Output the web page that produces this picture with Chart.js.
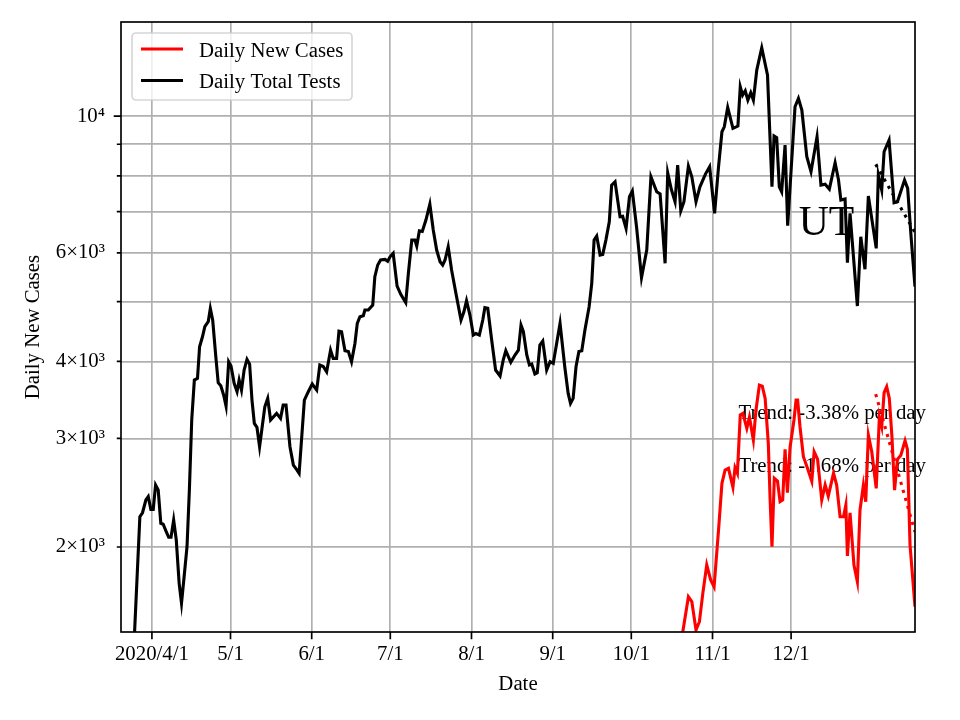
<!DOCTYPE html>
<html lang="en">
<head>
  <meta charset="UTF-8">
  <title>UT Daily New Cases and Tests</title>
  <script src="https://cdn.jsdelivr.net/npm/chart.js"></script>
  <style>
    body { margin: 0; background: #fff; }
    canvas { display: block; }
  </style>
</head>
<body>
  <canvas id="trendChart" width="960" height="720"></canvas>
  <script>
    // x values are days counted from 2020/4/1
    const monthTickDays = [0, 30, 61, 91, 122, 153, 183, 214, 244];
    const monthTickLabels = ['2020/4/1', '5/1', '6/1', '7/1', '8/1', '9/1', '10/1', '11/1', '12/1'];

    const yTickValues = [2000, 3000, 4000, 5000, 6000, 7000, 8000, 9000, 10000];
    const yTickLabels = ['2\u00d710\u00b3', '3\u00d710\u00b3', '4\u00d710\u00b3', '', '6\u00d710\u00b3', '', '', '', '10\u2074'];

    const seriesNames = ['Daily New Cases', 'Daily Total Tests'];
    const stateLabel = 'UT';
    const trendLabels = ['Trend: -3.38% per day', 'Trend: -1.68% per day'];

    const testsDays = [
      -6.8, -4.6, -3.6, -2.3, -1.4, -0.4, 0.5, 1.4, 2.4, 3.4, 4.3, 5.3, 6.4, 7.3, 8.3, 9.3,
      10.4, 11.3, 12.3, 13.4, 14.3, 15.2, 16.2, 17.4, 18.2, 19.3, 20.2, 21.5, 22.3, 23.2, 24.4,
      25.3, 26.3, 27.4, 28.3, 29.3, 30.2, 31.4, 32.5, 33.3, 34.2, 35.2, 36.3, 37.3, 38.2, 39.1,
      40.1, 41.1, 43.1, 44.2, 45.3, 47.6, 49.1, 50.1, 51.2, 52.7, 54.0, 55.2, 56.2, 58.2, 59.7,
      61.2, 62.9, 64.1, 65.4, 66.7, 68.2, 69.2, 70.5, 71.4, 72.4, 73.7, 75.0, 76.2, 77.5, 78.4,
      79.4, 80.7, 81.3, 82.6, 84.3, 85.1, 86.2, 87.3, 89.0, 90.0, 90.9, 92.1, 93.6, 95.0, 96.9,
      97.9, 99.2, 100.4, 101.1, 102.1, 103.2, 104.6, 106.1, 107.4, 108.7, 110.0, 111.0, 111.9,
      113.1, 114.4, 116.3, 118.0, 119.1, 120.1, 121.4, 122.7, 123.7, 125.0, 126.3, 127.1, 128.2,
      129.7, 131.2, 132.9, 134.1, 135.1, 137.0, 138.6, 139.9, 140.9, 141.8, 143.1, 144.1, 145.0,
      146.2, 147.1, 148.1, 149.2, 150.7, 152.0, 153.2, 154.5, 155.8, 157.6, 158.9, 159.8, 160.8,
      161.9, 163.0, 164.1, 165.3, 166.9, 167.9, 168.8, 169.8, 171.1, 172.1, 173.3, 174.6, 175.5,
      176.8, 178.7, 179.7, 181.0, 182.3, 183.4, 185.0, 186.9, 188.9, 190.5, 192.7, 194.0, 195.9,
      196.9, 198.3, 199.7, 200.7, 201.9, 203.1, 204.8, 206.1, 207.7, 209.2, 211.3, 212.9, 214.8,
      216.3, 217.6, 218.5, 219.8, 221.8, 223.7, 224.6, 225.5, 226.5, 227.5, 228.6, 229.6, 230.9,
      232.8, 235.0, 236.7, 237.5, 238.5, 239.5, 240.4, 241.7, 242.7, 245.5, 246.8, 248.1, 250.0,
      251.6, 253.9, 255.4, 257.0, 258.6, 260.8, 262.1, 263.0, 264.6, 265.5, 266.5, 269.3, 270.6,
      272.2, 273.5, 276.5, 277.3, 278.6, 279.5, 281.4, 283.3, 284.6, 287.3, 288.5, 289.8, 291.3
    ];
    const testsValues = [
      1400, 2239, 2273, 2384, 2414, 2302, 2302, 2521, 2474, 2185, 2178, 2126, 2074, 2074, 2212, 2053,
      1746, 1621, 1790, 2002, 2474, 3214, 3731, 3755, 4225, 4386, 4553, 4639, 4876, 4669, 4070,
      3694, 3652, 3526, 3385, 3995, 3932, 3685, 3572, 3731, 3594, 3873, 4031, 3960, 3462, 3174,
      3127, 2909, 3377, 3484, 3214, 3294, 3233, 3398, 3398, 2909, 2716, 2673, 2633, 3462, 3572,
      3676, 3594, 3947, 3925, 3848, 4173, 4046, 4046, 4480, 4470, 4163, 4150, 3995, 4278, 4611,
      4726, 4745, 4846, 4846, 4937, 5488, 5734, 5842, 5855, 5815, 5912, 5989, 5300, 5140, 4981,
      5558, 6293, 6293, 6154, 6516, 6500, 6781, 7198, 6533, 6063, 5805, 5734, 5842,
      6138, 5627, 5094, 4669, 4815, 5017, 4756, 4414, 4439, 4414, 4669, 4888, 4876,
      4332, 3873, 3788, 4020, 4163, 3987, 4097, 4173, 4581, 4470, 4097, 3947, 3960,
      3817, 3835, 4252, 4316, 3873, 3995, 3970, 4278, 4611, 3921, 3550, 3420, 3484,
      3921, 4150, 4163, 4497, 4906, 5355, 6293, 6389, 5951, 5965, 6293, 6739, 7728,
      7825, 6865, 6878, 6575, 7397, 7557, 6614, 5470, 6063, 7970, 7537, 7476, 5770,
      8091, 7600, 7262, 8325, 7021, 7262, 8295, 7970, 7262, 7679, 8052, 8275, 6953,
      8275, 9431, 9607, 10330, 9551, 9634, 11156, 10815, 10990, 10614, 10909, 10614, 11874,
      12906, 11655, 7679, 9281, 9224, 7679, 7537, 8974, 6639, 10354, 10683, 10227, 8591,
      8123, 9256, 7728, 7753, 7612, 8399, 7874, 7308, 7336, 5783, 6953, 4919, 6373,
      5643, 7418, 6101, 8023, 7586, 8752, 9143, 7234, 7262, 7874, 7633, 6373, 5288
    ];

    const casesDays = [
      202.0, 204.8, 206.1, 207.7, 209.0, 210.3, 211.8, 213.3, 214.6, 216.3, 217.6, 218.8, 220.1,
      221.8, 222.6, 223.5, 224.6, 225.6, 227.1, 228.1, 229.6, 230.6, 231.9, 233.0, 234.1, 235.3,
      236.0, 236.7, 237.6, 238.8, 239.8, 240.8, 241.7, 242.6, 243.6, 245.1, 245.9, 246.5, 247.4,
      248.7, 250.2, 251.9, 252.8, 254.1, 255.7, 257.0, 258.2, 260.2, 261.4, 262.7, 264.0, 264.9,
      265.5, 266.5, 268.0, 269.3, 270.3, 271.6, 272.5, 273.5, 274.8, 276.5, 277.7, 278.6, 279.5,
      280.5, 281.5, 282.5, 283.5, 284.6, 285.9, 287.5, 288.4, 289.4, 291.3
    ];
    const casesValues = [
      1400, 1661, 1631, 1467, 1513, 1682, 1870, 1768, 1724, 2131, 2537, 2666, 2683,
      2499, 2690, 2634, 3275, 3294, 3115, 3249, 2982, 3337, 3662, 3648, 3484, 2946,
      2384, 2002, 2585, 2558, 2369, 2384, 2881, 2450, 2900, 3214, 3462, 3462, 3134,
      2802, 2690, 2558, 2855, 2777, 2384, 2523, 2418, 2634, 2521, 2239, 2239, 2339,
      1934, 2273, 1870, 1757, 2296, 2521, 2369, 3038, 2855, 2490, 3249, 3134, 3559,
      3639, 3484, 3019, 2474, 2775, 2817, 2975, 2881, 2015, 1600
    ];

    const trendDays = [276.3, 291.3];
    const testsTrend = [8350, 6476];
    const casesTrend = [3540, 2115];

    const FONT = "'Liberation Serif', 'Times New Roman', serif";
    const FS = 20.8;
    const LW = 1.67;

    function toPoints(days, values) {
      return days.map((d, i) => ({ x: d, y: values[i] }));
    }

    const decor = {
      id: 'decor',
      beforeDatasetsDraw(chart) {
        const { ctx, scales: { x, y } } = chart;
        ctx.save();
        ctx.fillStyle = '#000';
        ctx.textAlign = 'left';
        ctx.textBaseline = 'alphabetic';
        ctx.font = '41.7px ' + FONT;
        ctx.fillText(stateLabel, x.getPixelForValue(246.9), y.getPixelForValue(6412));
        ctx.font = FS + 'px ' + FONT;
        ctx.fillText(trendLabels[0], x.getPixelForValue(223.9), y.getPixelForValue(3221));
        ctx.fillText(trendLabels[1], x.getPixelForValue(223.9), y.getPixelForValue(2650));
        ctx.restore();
      },
      afterDatasetsDraw(chart) {
        const { ctx, chartArea: a, scales: { x, y } } = chart;
        ctx.save();
        ctx.strokeStyle = '#000';
        ctx.lineWidth = LW;
        // tick marks
        ctx.beginPath();
        monthTickDays.forEach(d => {
          const px = x.getPixelForValue(d);
          ctx.moveTo(px, a.bottom);
          ctx.lineTo(px, a.bottom + 7.3);
        });
        yTickValues.forEach(v => {
          const py = y.getPixelForValue(v);
          const len = v === 10000 ? 7.3 : 4.2;
          ctx.moveTo(a.left, py);
          ctx.lineTo(a.left - len, py);
        });
        ctx.stroke();
        // frame
        ctx.strokeRect(a.left, a.top, a.right - a.left, a.bottom - a.top);

        // legend
        const lx = a.left + 11, ly = a.top + 11, lw = 220, lh = 67, r = 4;
        ctx.beginPath();
        ctx.moveTo(lx + r, ly);
        ctx.arcTo(lx + lw, ly, lx + lw, ly + lh, r);
        ctx.arcTo(lx + lw, ly + lh, lx, ly + lh, r);
        ctx.arcTo(lx, ly + lh, lx, ly, r);
        ctx.arcTo(lx, ly, lx + lw, ly, r);
        ctx.closePath();
        ctx.fillStyle = 'rgba(255,255,255,0.8)';
        ctx.fill();
        ctx.strokeStyle = 'rgba(204,204,204,0.8)';
        ctx.stroke();

        const colors = ['#ff0000', '#000000'];
        ctx.lineWidth = 3.1;
        ctx.font = FS + 'px ' + FONT;
        ctx.fillStyle = '#000';
        ctx.textBaseline = 'alphabetic';
        seriesNames.forEach((name, i) => {
          const rowY = a.top + 27 + i * 31.5;
          ctx.strokeStyle = colors[i];
          ctx.beginPath();
          ctx.moveTo(lx + 9, rowY);
          ctx.lineTo(lx + 51, rowY);
          ctx.stroke();
          ctx.fillText(name, lx + 67, rowY + 7.5);
        });
        ctx.restore();
      }
    };

    new Chart(document.getElementById('trendChart'), {
      type: 'line',
      data: {
        datasets: [
          {
            label: seriesNames[1],
            data: toPoints(testsDays, testsValues),
            borderColor: '#000000',
            borderWidth: 3.1,
            pointRadius: 0,
            tension: 0,
            clip: 0
          },
          {
            label: seriesNames[0],
            data: toPoints(casesDays, casesValues),
            borderColor: '#ff0000',
            borderWidth: 3.1,
            pointRadius: 0,
            tension: 0,
            clip: 0
          },
          {
            label: 'tests trend',
            data: toPoints(trendDays, testsTrend),
            borderColor: '#000000',
            borderWidth: 3.1,
            borderDash: [3.1, 5.2],
            pointRadius: 0,
            clip: 0
          },
          {
            label: 'cases trend',
            data: toPoints(trendDays, casesTrend),
            borderColor: '#ff0000',
            borderWidth: 3.1,
            borderDash: [3.1, 5.2],
            pointRadius: 0,
            clip: 0
          }
        ]
      },
      options: {
        responsive: false,
        animation: false,
        devicePixelRatio: 1,
        layout: { padding: { left: 0, right: 45, top: 22, bottom: 0 } },
        plugins: {
          legend: { display: false },
          tooltip: { enabled: false }
        },
        scales: {
          x: {
            type: 'linear',
            min: -11.8,
            max: 291.3,
            afterBuildTicks: scale => {
              scale.ticks = monthTickDays.map(v => ({ value: v }));
            },
            afterFit: scale => {
              scale.height = 88;
              scale.paddingLeft = 0;
              scale.paddingRight = 0;
            },
            grid: { color: '#b0b0b0', lineWidth: LW, drawTicks: false },
            border: { display: false },
            ticks: {
              autoSkip: false,
              maxRotation: 0,
              padding: 10,
              color: '#000',
              font: { family: FONT, size: FS },
              callback: (value, index) => monthTickLabels[index]
            },
            title: {
              display: true,
              text: 'Date',
              color: '#000',
              font: { family: FONT, size: FS },
              padding: { top: 0, bottom: 23 }
            }
          },
          y: {
            type: 'logarithmic',
            min: 1456,
            max: 14210,
            afterBuildTicks: scale => {
              scale.ticks = yTickValues.map(v => ({ value: v, major: v === 10000 }));
            },
            afterFit: scale => {
              scale.width = 121;
              scale.paddingTop = 0;
              scale.paddingBottom = 0;
            },
            grid: { color: '#b0b0b0', lineWidth: LW, drawTicks: false },
            border: { display: false },
            ticks: {
              autoSkip: false,
              padding: 16,
              color: '#000',
              font: { family: FONT, size: FS },
              callback: (value, index) => yTickLabels[index]
            },
            title: {
              display: true,
              text: seriesNames[0],
              color: '#000',
              font: { family: FONT, size: FS },
              padding: { top: 21, bottom: 0 }
            }
          }
        }
      },
      plugins: [decor]
    });
  </script>
</body>
</html>
